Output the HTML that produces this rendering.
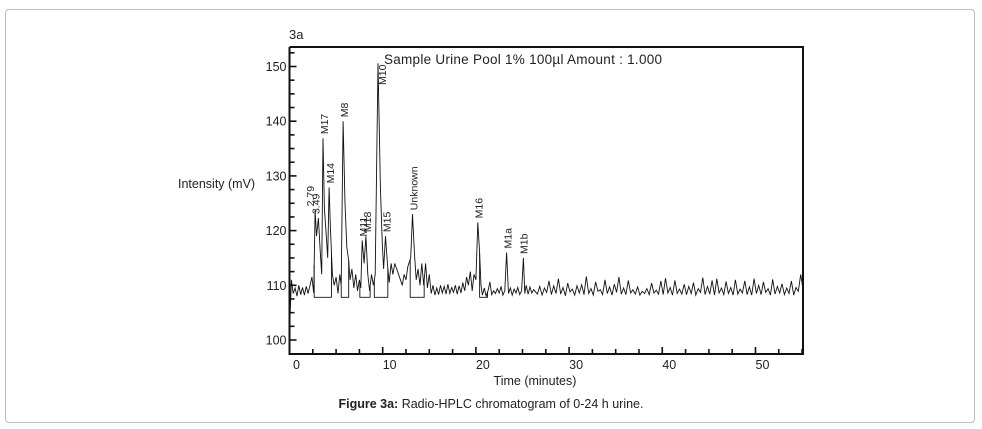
<!DOCTYPE html>
<html><head><meta charset="utf-8"><style>
body{margin:0;background:#fff;width:982px;height:429px;overflow:hidden;font-family:"Liberation Sans",Arial,sans-serif}
#frame{position:absolute;left:5px;top:9px;width:968px;height:412px;border:1px solid #bdbdbd;border-radius:4px}
svg{position:absolute;left:0;top:0}
#cap{position:absolute;left:0;width:982px;top:397px;text-align:center;font-size:12.5px;color:#222}
</style></head><body>
<div id="frame"></div>
<svg id="chart" width="982" height="429"></svg>
<div id="cap"><b>Figure 3a:</b> Radio-HPLC chromatogram of 0-24 h urine.</div>
<script>
const xTicks=[0,10,20,30,40,50];
const yTicks=[100,110,120,130,140,150];
const earlyTimes=[-0.05,0.05,0.2,0.4,0.6,0.8,1.0,1.2,1.4,1.6,1.8,2.0,2.2,2.4,2.6,2.75,2.9,3.1,3.3,3.45,3.6,3.75,3.95,4.1,4.25,4.4,4.6,4.8,5.0,5.2,5.4,5.55,5.75,5.95,6.15,6.35,6.5,6.7,6.9,7.1,7.3,7.5,7.65,7.8,8.0,8.2,8.4,8.6,8.8,9.0,9.2,9.5,9.75,9.95,10.1,10.3,10.5,10.7,10.9,11.1,11.3,12.1,12.3,12.5,12.7,13.0,13.2,13.4,13.6,13.8,14.0,14.2,14.4,14.6,14.8,15.0,15.2,15.4,15.6,15.8,16.0,16.2,16.4,16.6,16.8,17.0,17.2,17.4,17.6,17.8,18.0,18.2,18.4,18.6,18.8,19.0,19.2,19.4,19.6,19.8,20.0,20.2,20.4,20.55,20.7,20.9,21.1,21.3,21.5,21.7,21.9,22.1,22.3,22.5,22.7,22.9,23.1,23.3,23.5,23.7,23.9,24.1,24.3,24.5,24.7,24.9,25.1,25.25,25.4,25.6,25.8,26.0,26.2,26.4];
const earlyValues=[100.5,104,111,108.5,109.5,108,110,108.3,109.6,108.2,109.8,108.5,110,111.5,108.6,123.7,119,122.3,116,112,136.9,124,119,115,127.9,120,112,110,111.5,108.5,112,110,140,125,117,114.5,111,113,109.5,112,109,111,109.5,118.2,114,119,112,109,112,110,112,150.6,128,118,113,119,114,110.5,114,112,114,110,112,111,113.5,115,123,116,111,113,110,114,110,114,109.5,112,108.5,110,108.2,109.5,108.3,110,108.6,109.8,108.4,110.2,108.5,109.6,108.7,110,108.4,109.9,108.6,110.5,109,111.5,110,112.5,109,112,111,121.5,116,110,108.2,109.5,108,109,110.6,108.3,109,108.5,109.4,108.6,109.8,108.2,109,116,108.5,109.5,108.2,109.3,108.6,109.6,108.3,109,115,108.5,110,108.4,109.7,108.6,109.2];
const noiseStart=26.6, noiseStep=0.25;
const noiseValues=[108.4,109.8,108.2,109.5,108.7,110.8,108.3,109.9,108.5,111.2,108.4,109.6,108.1,110.4,108.8,109.3,108.2,109.9,108.6,110.1,108.3,111.6,108.5,109.4,108.2,110.6,108.9,109.2,108.3,111.0,108.5,109.7,108.2,110.2,108.7,111.5,108.4,109.5,108.3,110.9,108.6,109.2,108.4,109.7,108.2,108.9,108.5,109.4,108.3,110.4,108.6,109.1,108.4,110.8,108.3,111.3,108.6,109.6,108.2,110.9,108.5,109.3,108.4,110.2,108.3,109.8,108.5,110.5,108.2,109.4,108.7,111.4,108.3,109.8,108.4,110.9,108.2,111.2,108.6,109.5,108.3,110.7,108.5,109.6,108.2,111.0,108.4,109.3,108.6,110.8,108.3,109.7,108.2,111.2,108.5,110.0,108.3,110.6,108.7,109.4,108.2,111.1,108.4,109.8,108.6,110.3,108.3,109.5,108.5,110.8,108.2,109.6,108.9,112.0,109.3,111.5,108.3];
const baseSegments=[[2.65,4.5],[5.55,6.35],[7.55,8.65],[9.1,10.55],[12.95,14.45],[20.4,21.25]];
const baseLevel=107.8;
const peakLabels=["2.79","3.49","M17","M14","M8","M11","M18","M10","M15","Unknown","M16","M1a","M1b"];
const peakTimes=[2.75,3.1,3.6,4.25,5.75,7.8,8.2,9.5,10.3,13.2,20.2,23.3,25.0];
const peakValues=[123.7,122.3,136.9,127.9,140,118.2,119,150.6,119,123,121.5,116,115];

const X0=289.5,X1=803,T0=0,T1=55.1,Y0=340,Y1=66.5;
const xs=t=>X0+(t-T0)*(X1-X0)/(T1-T0);
const ys=v=>Y0-(v-100)*(Y0-Y1)/50;
const svg=document.getElementById('chart');
const NS='http://www.w3.org/2000/svg';
function mk(tag,attrs){const e=document.createElementNS(NS,tag);for(const k in attrs)e.setAttribute(k,attrs[k]);svg.appendChild(e);return e;}
const topY=47,botY=354;
let pts=[];
earlyTimes.forEach((t,i)=>{const v=earlyValues[i];if(v===undefined)return;pts.push(xs(t).toFixed(1)+','+ys(v).toFixed(1));});
noiseValues.forEach((v,i)=>{const t=noiseStart+i*noiseStep;if(t<=T1)pts.push(xs(t).toFixed(1)+','+ys(v).toFixed(1));});
let line=mk('polyline',{points:pts.join(' '),fill:'none',stroke:'#111','stroke-width':'0.9'});


function interp(t){for(let i=0;i<earlyTimes.length-1;i++){if(earlyValues[i+1]===undefined)break;if(t>=earlyTimes[i]&&t<=earlyTimes[i+1]){const f=(t-earlyTimes[i])/(earlyTimes[i+1]-earlyTimes[i]);return earlyValues[i]+f*(earlyValues[i+1]-earlyValues[i]);}}return baseLevel;}
baseSegments.forEach(s=>{
  const b=ys(baseLevel);
  let p=mk('polyline',{points:`${xs(s[0])},${ys(interp(s[0]))} ${xs(s[0])},${b} ${xs(s[1])},${b} ${xs(s[1])},${ys(interp(s[1]))}`,fill:'none',stroke:'#111','stroke-width':'0.9'});
  
  
});
let fr=mk('path',{d:`M${X0},${topY} V${botY} H${X1} V${topY} H${X0}`,fill:'none',stroke:'#111','stroke-width':'2'});


for(let v=95;v<=155;v+=2.5){const y=ys(v);if(y<topY+2||y>botY-2)continue;const major=v%10===0;mk('line',{x1:X0,x2:X0+(major?7:5),y1:y,y2:y,stroke:'#111','stroke-width':'1.6'});}
yTicks.forEach(v=>{let t=mk('text',{x:X0-3,y:ys(v)+4.5,'text-anchor':'end','font-size':'12.5',fill:'#222'});t.textContent=v;});
for(let t=2.5;t<T1;t+=2.5){const x=xs(t);const major=t%10===0;mk('line',{x1:x,x2:x,y1:botY,y2:botY-(major?7:5),stroke:'#111','stroke-width':'1.6'});}
xTicks.forEach(v=>{let t=mk('text',{x:xs(v)+7,y:botY+15,'text-anchor':'middle','font-size':'12.5',fill:'#222'});t.textContent=v;});
peakLabels.forEach((l,i)=>{let x=xs(peakTimes[i])+(i===0?-1:i===1?1:5);let y=ys(peakValues[i])-4;
 if(l==='M10'){x+=3;y=85;}
 let t=mk('text',{x:x,y:y,transform:`rotate(-90 ${x} ${y})`,'font-size':'10.5',fill:'#222'});t.textContent=l;
 
 });
function txt(x,y,s,size,name,anchor,len){let t=mk('text',{x:x,y:y,'font-size':size,fill:'#222','text-anchor':anchor||'start'});if(len)t.setAttribute('textLength',len);t.textContent=s;}
txt(289,39,'3a','13','panel-label');
txt(384,64,'Sample Urine Pool 1% 100µl  Amount : 1.000','13.5','chart-title','start',278);
txt(178,188,'Intensity (mV)','12.5','y-axis-title');
txt(535,385,'Time (minutes)','12.5','x-axis-title','middle');
</script>
</body></html>
